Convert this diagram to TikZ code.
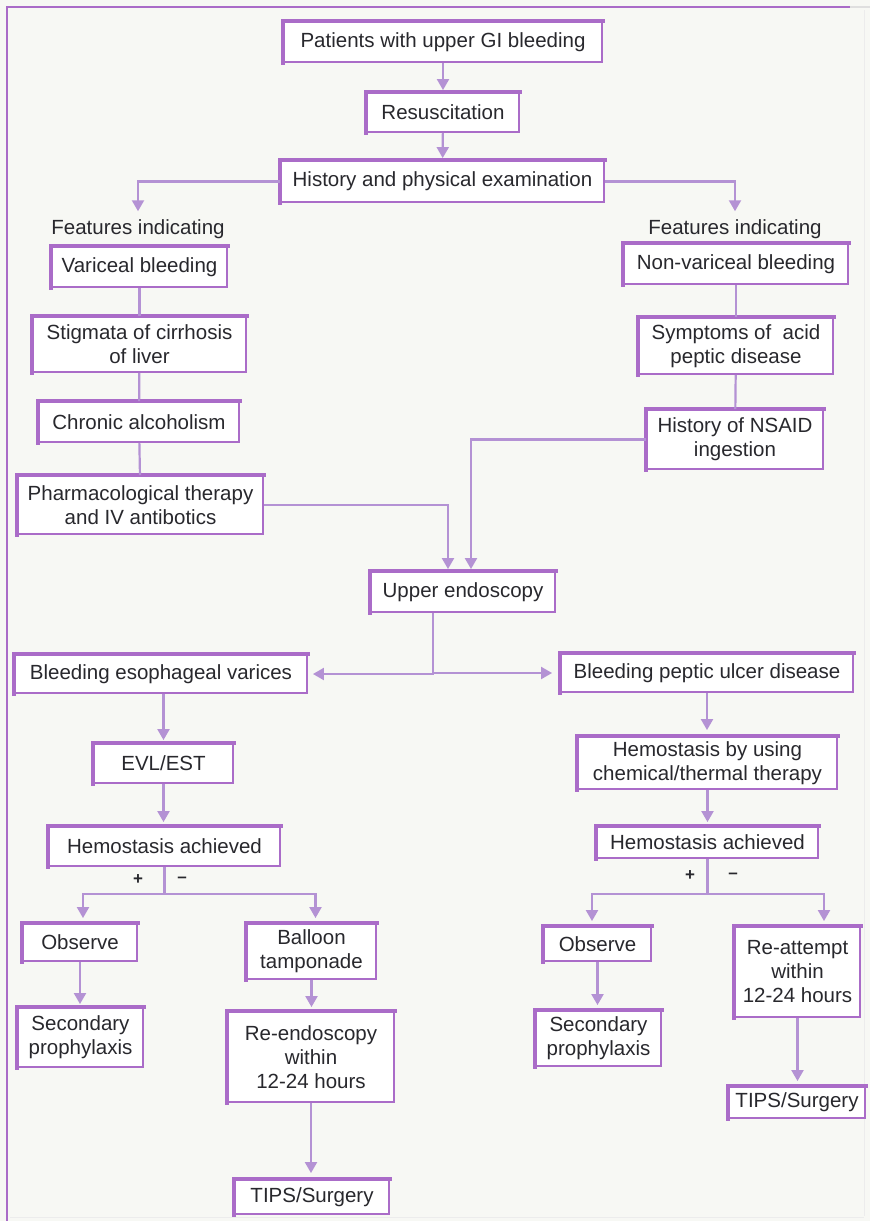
\documentclass[tikz,border=0pt]{standalone}
\usepackage{fontspec}
\setmainfont{Liberation Sans}
\usetikzlibrary{arrows.meta}
\definecolor{boxc}{RGB}{170,108,200}
\definecolor{arrc}{RGB}{180,146,212}
\definecolor{txt}{RGB}{40,40,45}
\definecolor{paper}{RGB}{247,248,244}
\begin{document}
\begin{tikzpicture}[x=1pt,y=-1pt,
  box/.style={draw=boxc, line width=1.9pt, fill=white, text=txt, align=center,
    inner sep=0pt, font=\fontsize{20.5}{24}\selectfont},
  topleft/.style={draw=boxc, line width=3.6pt, line cap=rect},
  plain/.style={text=txt, inner sep=0pt, font=\fontsize{20.5}{24}\selectfont},
  sign/.style={text=txt, inner sep=0pt, font=\fontsize{17}{17}\selectfont\bfseries},
  ln/.style={draw=arrc, line width=2.2pt},
  arr/.style={ln, -{Triangle[width=12pt,length=11pt]}, shorten >=2pt}
]
% page and frame
\fill[paper] (0,0) rectangle (870,1221);
\useasboundingbox (0,0) rectangle (870,1221);
\draw[boxc, line width=2.2pt] (7,1221) -- (7,7) -- (850,7);
\draw[gray!25, line width=1.5pt] (850,7) -- (870,7);
\draw[gray!15, line width=1pt] (864,10) -- (864,1216) (10,1217) -- (864,1217);

% entry sequence
\node[box, minimum width=318, minimum height=40] (p1) at (443,42) {Patients with upper GI bleeding};
\node[box, minimum width=152, minimum height=39] (resus) at (443,112.5) {Resuscitation};
\node[box, minimum width=323, minimum height=41] (hist) at (442.5,181.5) {History and physical examination};

% variceal column
\node[plain] (featL) at (138,229) {Features indicating};
\node[box, minimum width=175, minimum height=40] (varb) at (139.5,267) {Variceal bleeding};
\node[box, minimum width=213, minimum height=55] (stig) at (139.5,344.5) {Stigmata of cirrhosis\\of liver};
\node[box, minimum width=200, minimum height=40] (chron) at (139,422) {Chronic alcoholism};
\node[box, minimum width=245, minimum height=58] (pharm) at (140.5,505) {Pharmacological therapy\\and IV antibotics};

% non-variceal column
\node[plain] (featR) at (735,229) {Features indicating};
\node[box, minimum width=224, minimum height=40] (nvar) at (736,264) {Non-variceal bleeding};
\node[box, minimum width=194, minimum height=56] (symp) at (736,346) {Symptoms of~~acid\\peptic disease};
\node[box, minimum width=176, minimum height=59] (nsaid) at (735,439.5) {History of NSAID\\ingestion};

% endoscopy
\node[box, minimum width=184, minimum height=40] (endo) at (463,592) {Upper endoscopy};
\node[box, minimum width=292, minimum height=38] (bev) at (161,674) {Bleeding esophageal varices};
\node[box, minimum width=292, minimum height=38] (bpu) at (707,673) {Bleeding peptic ulcer disease};

% varices branch
\node[box, minimum width=139, minimum height=39] (evl) at (163.5,763.5) {EVL/EST};
\node[box, minimum width=231, minimum height=39] (hal) at (164.5,846.5) {Hemostasis achieved};
\node[box, minimum width=114, minimum height=37] (obsl) at (80,942.5) {Observe};
\node[box, minimum width=129, minimum height=55] (ball) at (311.5,951.5) {Balloon\\tamponade};
\node[box, minimum width=125, minimum height=59] (secl) at (80.5,1037.5) {Secondary\\prophylaxis};
\node[box, minimum width=166, minimum height=90] (reend) at (311,1057) {Re-endoscopy\\within\\12-24 hours};
\node[box, minimum width=154, minimum height=34] (tipsl) at (312,1197) {TIPS/Surgery};

% ulcer branch
\node[box, minimum width=259, minimum height=52] (hbu) at (707.5,763) {Hemostasis by using\\chemical/thermal therapy};
\node[box, minimum width=221, minimum height=31] (har) at (707.5,842.5) {Hemostasis achieved};
\node[box, minimum width=107, minimum height=34] (obsr) at (597.5,944) {Observe};
\node[box, minimum width=125, minimum height=90] (reatt) at (797.5,972) {Re-attempt\\within\\12-24 hours};
\node[box, minimum width=125, minimum height=55] (secr) at (598.5,1038.5) {Secondary\\prophylaxis};
\node[box, minimum width=136, minimum height=31] (tipsr) at (797,1102.5) {TIPS/Surgery};

% heavier top and left edges of every box
\foreach \n in {p1,resus,hist,varb,stig,chron,pharm,nvar,symp,nsaid,endo,bev,bpu,
  evl,hal,obsl,ball,secl,reend,tipsl,hbu,har,obsr,reatt,secr,tipsr}
  \draw[topleft] (\n.south west) -- (\n.north west) -- (\n.north east);

% outcome signs
\node[sign] (plusL) at (138,880) {+};
\node[sign] (minusL) at (182,880) {–};
\node[sign] (plusR) at (690,876) {+};
\node[sign] (minusR) at (733,876) {–};

% connectors: entry
\draw[arr] (p1) -- (resus);
\draw[arr] (resus) -- (hist);
\draw[arr, shorten >=8pt] (hist.west) -| (featL.north);
\draw[arr, shorten >=8pt] (hist.east) -| (featR.north);

% connectors: feature lists
\draw[ln] (varb) -- (stig);
\draw[ln] (stig) -- (chron);
\draw[ln] (chron) -- (pharm);
\draw[ln] (nvar) -- (symp);
\draw[ln] (symp) -- (nsaid);
\draw[arr] (pharm.east) -| ([xshift=-15pt]endo.north);
\draw[arr] (nsaid.west) -| ([xshift=8pt]endo.north);

% connectors: endoscopy split
\draw[arr, shorten >=5pt] ([xshift=-30pt]endo.south) |- (bev.east);
\draw[arr, shorten >=8pt] ([xshift=-30pt]endo.south) |- (bpu.west);

% connectors: varices branch
\draw[arr, shorten >=3pt] (evl.north |- bev.south) -- (evl.north);
\draw[arr, shorten >=4pt] (evl.south) -- (evl.south |- hal.north);
\coordinate (jl) at (164.5,894);
\draw[ln] (hal.south) -- (jl);
\draw[arr, shorten >=5pt] (jl) -| ([xshift=3pt]obsl.north);
\draw[arr, shorten >=5pt] (jl) -| ([xshift=4pt]ball.north);
\draw[arr, shorten >=3pt] (obsl.south) -- (obsl.south |- secl.north);
\draw[arr, shorten >=4pt] (ball.south) -- (ball.south |- reend.north);
\draw[arr, shorten >=6pt] (reend.south) -- (reend.south |- tipsl.north);

% connectors: ulcer branch
\draw[arr, shorten >=6pt] (bpu.south) -- (bpu.south |- hbu.north);
\draw[arr, shorten >=4pt] (hbu.south) -- (hbu.south |- har.north);
\coordinate (jr) at (707.5,894);
\draw[ln] (har.south) -- (jr);
\draw[arr, shorten >=5pt] (jr) -| ([xshift=-5.5pt]obsr.north);
\draw[arr, shorten >=5pt] (jr) -| ([xshift=26.5pt]reatt.north);
\draw[arr, shorten >=5pt] (obsr.south) -- (obsr.south |- secr.north);
\draw[arr, shorten >=5pt] (reatt.south) -- (reatt.south |- tipsr.north);
\end{tikzpicture}
\end{document}
